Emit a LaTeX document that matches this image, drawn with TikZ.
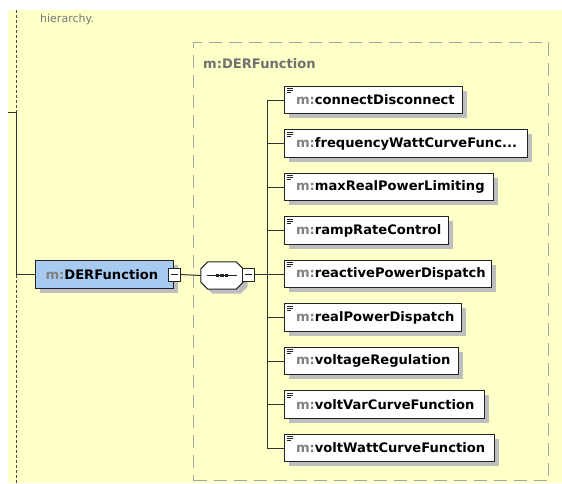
\documentclass[tikz,border=0pt]{standalone}
\usepackage{fontspec}
\setmainfont{DejaVu Sans}
\usetikzlibrary{shadows}
\definecolor{bg}{RGB}{255,255,200}
\definecolor{bluefill}{RGB}{166,202,240}
\definecolor{edge}{RGB}{35,35,35}
\definecolor{pfx}{RGB}{128,128,128}
\definecolor{grplabel}{RGB}{112,112,112}
\definecolor{dashc}{RGB}{165,165,160}
\definecolor{shade}{RGB}{190,190,190}
\definecolor{linec}{RGB}{50,50,50}
\definecolor{txtgray}{RGB}{120,120,120}
\newcommand{\elt}[2]{\hbox to #1{\hspace*{11.5pt}\textcolor{pfx}{m:}#2\hfil}}
\tikzset{
  shadowed/.style={drop shadow={shadow xshift=4.5pt,shadow yshift=-4.5pt,fill=shade,opacity=1}},
  elem/.style={draw=edge,line width=1pt,fill=white,shadowed,anchor=west,
    minimum height=27.5pt,inner sep=0pt,font=\fontsize{13.1}{15}\selectfont\bfseries,
    path picture={
      \draw[line width=0.7pt,edge] ([shift={(2pt,-2.3pt)}]path picture bounding box.north west) -- ++(6pt,0pt);
      \draw[line width=0.7pt,edge] ([shift={(2pt,-4.3pt)}]path picture bounding box.north west) -- ++(6pt,0pt);
      \draw[line width=0.7pt,edge] ([shift={(2pt,-6.3pt)}]path picture bounding box.north west) -- ++(4pt,0pt);
    }},
  conn/.style={draw=linec,line width=1pt},
  dotline/.style={draw=linec!90,line width=1.8pt,dash pattern=on 3pt off 2pt},
  minusbox/.style={draw=edge,fill=white,minimum width=12pt,minimum height=13pt,inner sep=0pt,line width=0.9pt,
    path picture={\draw[line width=0.9pt,edge] ([xshift=2.5pt]path picture bounding box.west) -- ([xshift=-2.5pt]path picture bounding box.east);}},
}
\begin{document}
\begin{tikzpicture}[x=1pt,y=-1pt]
\useasboundingbox (0,0) rectangle (562,483);
\fill[bg] (8,10) rectangle (562,483);

\node[anchor=base west,font=\fontsize{11}{13}\selectfont,text=txtgray,inner sep=0pt] (hier) at (40,22) {hierarchy.};

% group box
\node[draw=dashc,line width=1.3pt,dash pattern=on 13pt off 7pt,anchor=north west,
  minimum width=355pt,minimum height=438pt,inner sep=0pt] (grp) at (193,42) {};
\node[anchor=base west,inner sep=0pt,text=grplabel,font=\fontsize{13.1}{15}\selectfont\bfseries] (glabel) at (203,68) {m:DERFunction};

% main element
\node[draw=edge,line width=1pt,fill=bluefill,shadowed,anchor=west,minimum width=138pt,minimum height=28pt,inner sep=0pt,
  font=\fontsize{13.1}{15}\selectfont\bfseries] (der) at (35,274.5)
  {\hbox to 138pt{\hspace*{10pt}\textcolor{pfx}{m:}DERFunction\hfil}};
\node[minusbox] (derminus) at (174,274.5) {};

% sequence compositor (octagon)
\node[minimum width=42pt,minimum height=27pt,inner sep=0pt] (seq) at (222,275.5) {};
\draw[edge,line width=1pt,fill=white,shadowed]
  ([xshift=7pt]seq.north west) -- ([xshift=-7pt]seq.north east) -- ([yshift=-7pt]seq.north east)
  -- ([yshift=7pt]seq.south east) -- ([xshift=-7pt]seq.south east) -- ([xshift=7pt]seq.south west)
  -- ([yshift=7pt]seq.south west) -- ([yshift=-7pt]seq.north west) -- cycle;
\draw[line width=1pt,edge] ([xshift=-15pt]seq.center) -- ([xshift=15pt]seq.center);
\foreach \dx in {-4.5,0,4.5} \fill[edge] ([shift={(\dx pt-1.7pt,-1.7pt)}]seq.center) rectangle ++(3.4pt,3.4pt);
\node[minusbox] (seqminus) at (248.5,274.5) {};

% children
\node[elem] (c1) at (284,100)   {\elt{178pt}{connectDisconnect}};
\node[elem] (c2) at (284,143.5) {\elt{243pt}{frequencyWattCurveFunc...}};
\node[elem] (c3) at (284,187)   {\elt{209pt}{maxRealPowerLimiting}};
\node[elem] (c4) at (284,230.5) {\elt{164pt}{rampRateControl}};
\node[elem] (c5) at (284,274)   {\elt{207pt}{reactivePowerDispatch}};
\node[elem] (c6) at (284,317.5) {\elt{177pt}{realPowerDispatch}};
\node[elem] (c7) at (284,361)   {\elt{174pt}{voltageRegulation}};
\node[elem] (c8) at (284,404.5) {\elt{200pt}{voltVarCurveFunction}};
\node[elem] (c9) at (284,448)   {\elt{210pt}{voltWattCurveFunction}};

% connectors
\coordinate (tr) at (267,0);
\draw[conn] (derminus.east) -- (seq.west);
\draw[conn] (seqminus.east) -- (seqminus.east -| tr);
\draw[conn] (c1.west -| tr) -- (c9.west -| tr);
\foreach \i in {1,...,9} \draw[conn] (c\i.west) -- (c\i.west -| tr);

% left hierarchy line
\coordinate (lt) at (16.5,10);
\coordinate (lj) at (16.5,112);
\coordinate (le) at (8,112);
\coordinate (lb) at (16.5,483);
\draw[dotline] (lt) -- (lj);
\draw[conn] (le) -- (lj) -- (der.west -| lj) -- (der.west);
\draw[dotline] (der.west -| lj) -- (lb);
\end{tikzpicture}
\end{document}
